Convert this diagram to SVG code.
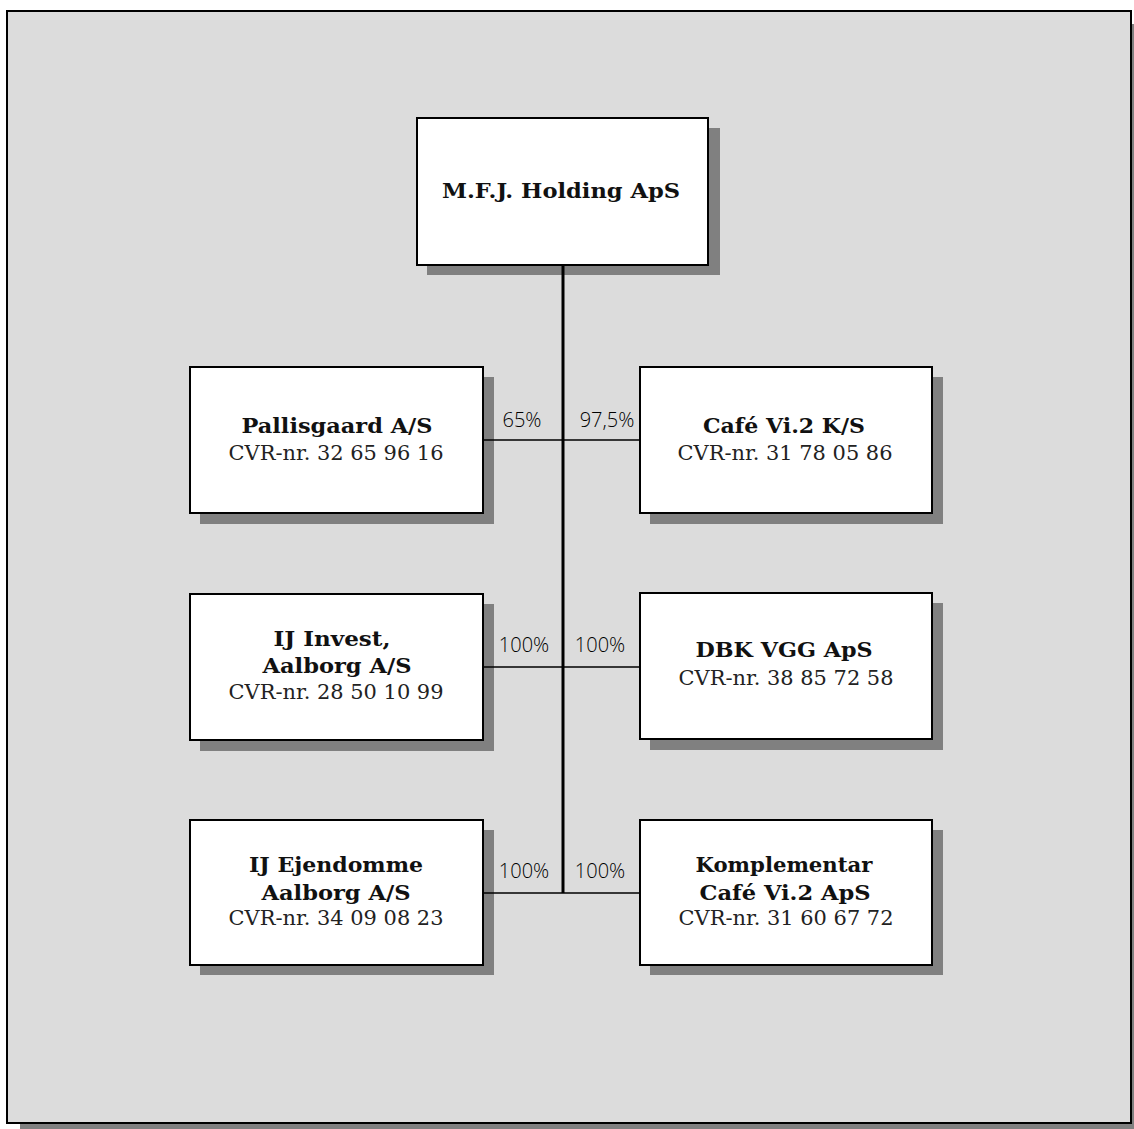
<svg xmlns="http://www.w3.org/2000/svg" width="1134" height="1129" viewBox="0 0 1134 1129">
<style>
.shadow{fill:#808080}
.box{fill:#fff;stroke:#000;stroke-width:2}
.t{font-family:"DejaVu Serif","Liberation Serif",serif;font-weight:bold;font-size:20px;fill:#111;text-anchor:middle}
.c{font-family:"DejaVu Serif","Liberation Serif",serif;font-size:20px;fill:#222;text-anchor:middle}
.p{font-family:"Open Sans","Noto Sans",sans-serif;font-weight:300;font-size:20px;fill:#000;text-anchor:middle}
.thin{stroke:#000;stroke-width:1.5;fill:none}
</style>
<rect x="0" y="0" width="1134" height="1129" fill="#fff"/>
<rect x="20" y="24" width="1114" height="1105" class="shadow"/>
<rect x="7" y="11" width="1124" height="1112" fill="#dcdcdc" stroke="#000" stroke-width="2"/>
<g id="holding">
<rect x="427" y="128" width="293" height="147" class="shadow"/>
<rect x="417" y="118" width="291" height="147" class="box"/>
<text class="t" x="561" y="198" textLength="238" lengthAdjust="spacingAndGlyphs">M.F.J. Holding  ApS</text>
</g>
<g id="pallisgaard">
<rect x="200" y="377" width="294" height="147" class="shadow"/>
<rect x="190" y="367" width="293" height="146" class="box"/>
<text class="t" x="337" y="433" textLength="191" lengthAdjust="spacingAndGlyphs">Pallisgaard  A/S</text>
<text class="c" x="336" y="460" textLength="215" lengthAdjust="spacingAndGlyphs">CVR-nr. 32 65 96 16</text>
</g>
<g id="cafe">
<rect x="650" y="377" width="293" height="147" class="shadow"/>
<rect x="640" y="367" width="292" height="146" class="box"/>
<text class="t" x="784" y="433" textLength="162" lengthAdjust="spacingAndGlyphs">Café  Vi.2 K/S</text>
<text class="c" x="785" y="460" textLength="215" lengthAdjust="spacingAndGlyphs">CVR-nr. 31 78 05 86</text>
</g>
<g id="ijinvest">
<rect x="200" y="604" width="294" height="147" class="shadow"/>
<rect x="190" y="594" width="293" height="146" class="box"/>
<text class="t" x="332" y="646" textLength="117" lengthAdjust="spacingAndGlyphs">IJ Invest,</text>
<text class="t" x="337" y="673" textLength="149" lengthAdjust="spacingAndGlyphs">Aalborg  A/S</text>
<text class="c" x="336" y="699" textLength="215" lengthAdjust="spacingAndGlyphs">CVR-nr. 28 50 10 99</text>
</g>
<g id="dbk">
<rect x="650" y="603" width="293" height="147" class="shadow"/>
<rect x="640" y="593" width="292" height="146" class="box"/>
<text class="t" x="784" y="657" textLength="177" lengthAdjust="spacingAndGlyphs">DBK VGG  ApS</text>
<text class="c" x="786" y="685" textLength="215" lengthAdjust="spacingAndGlyphs">CVR-nr. 38 85 72 58</text>
</g>
<g id="ijejendomme">
<rect x="200" y="830" width="294" height="145" class="shadow"/>
<rect x="190" y="820" width="293" height="145" class="box"/>
<text class="t" x="336" y="872" textLength="174" lengthAdjust="spacingAndGlyphs">IJ Ejendomme</text>
<text class="t" x="336" y="900" textLength="149" lengthAdjust="spacingAndGlyphs">Aalborg  A/S</text>
<text class="c" x="336" y="925" textLength="215" lengthAdjust="spacingAndGlyphs">CVR-nr. 34 09 08 23</text>
</g>
<g id="komplementar">
<rect x="650" y="830" width="293" height="145" class="shadow"/>
<rect x="640" y="820" width="292" height="145" class="box"/>
<text class="t" x="784" y="872" textLength="177" lengthAdjust="spacingAndGlyphs">Komplementar</text>
<text class="t" x="785" y="900" textLength="171" lengthAdjust="spacingAndGlyphs">Café Vi.2 ApS</text>
<text class="c" x="786" y="925" textLength="215" lengthAdjust="spacingAndGlyphs">CVR-nr. 31 60 67 72</text>
</g>
<g id="connectors">
<line x1="563" y1="265" x2="563" y2="893" stroke="#000" stroke-width="3"/>
<line x1="483" y1="440" x2="640" y2="440" class="thin"/>
<line x1="483" y1="667" x2="640" y2="667" class="thin"/>
<line x1="483" y1="893" x2="640" y2="893" class="thin"/>
<text class="p" x="522" y="427">65%</text>
<text class="p" x="607" y="427">97,5%</text>
<text class="p" x="524" y="652">100%</text>
<text class="p" x="600" y="652">100%</text>
<text class="p" x="524" y="878">100%</text>
<text class="p" x="600" y="878">100%</text>
</g>
</svg>
